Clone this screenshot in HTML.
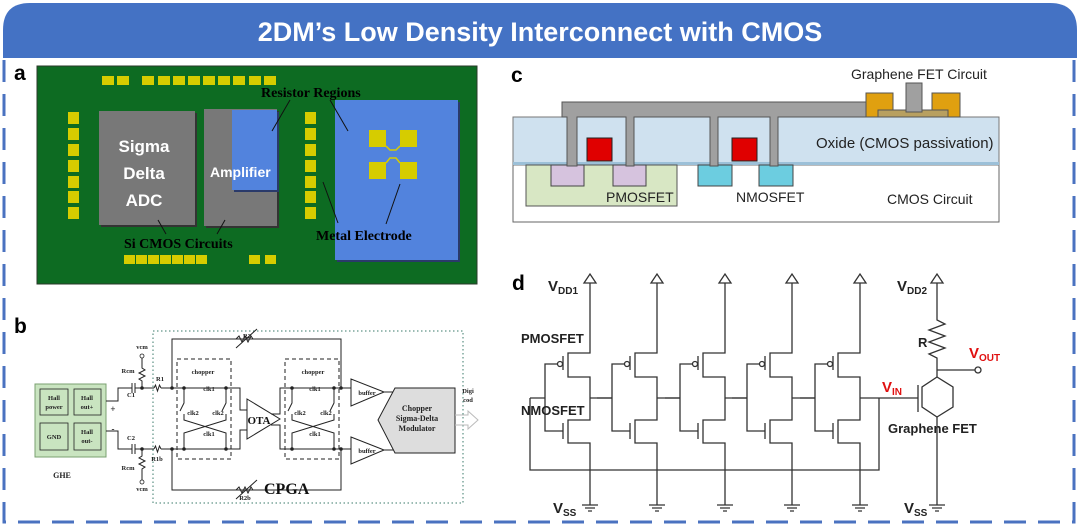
<!DOCTYPE html>
<html><head><meta charset="utf-8"><style>
html,body{margin:0;padding:0;background:#fff}
svg{display:block}
.sf{font-family:"Liberation Serif",serif;font-weight:bold}
.ss{font-family:"Liberation Sans",sans-serif}
</style></head><body>
<svg width="1080" height="531" viewBox="0 0 1080 531" xmlns="http://www.w3.org/2000/svg">
<path d="M4,60 V522 H1074 V60" fill="none" stroke="#4a72c0" stroke-width="3" stroke-dasharray="22,12"/>
<path d="M3,58 V30 Q3,3 30,3 H1050 Q1077,3 1077,30 V58 Z" fill="#4472c4"/>
<text x="540" y="41" text-anchor="middle" class="ss" font-weight="bold" font-size="27" fill="#fff">2DM’s Low Density Interconnect with CMOS</text>

<g class="ss" font-weight="bold" font-size="21" fill="#000">
<text x="14" y="80">a</text><text x="14" y="333">b</text><text x="511" y="82">c</text><text x="512" y="290">d</text>
</g>

<!-- PANEL A -->
<rect x="37" y="66" width="440" height="218" fill="#0d6b22" stroke="#2a3a2a"/>
<g fill="#d6cc00">
<rect x="102" y="76" width="12" height="9"/><rect x="117" y="76" width="12" height="9"/>
<rect x="142" y="76" width="12" height="9"/><rect x="158" y="76" width="12" height="9"/><rect x="173" y="76" width="12" height="9"/><rect x="188" y="76" width="12" height="9"/><rect x="203" y="76" width="12" height="9"/><rect x="218" y="76" width="12" height="9"/><rect x="233" y="76" width="12" height="9"/><rect x="249" y="76" width="12" height="9"/><rect x="264" y="76" width="12" height="9"/>
<rect x="68" y="112" width="11" height="12"/><rect x="68" y="128" width="11" height="12"/><rect x="68" y="144" width="11" height="12"/><rect x="68" y="160" width="11" height="12"/><rect x="68" y="176" width="11" height="12"/><rect x="68" y="191" width="11" height="12"/><rect x="68" y="207" width="11" height="12"/>
<rect x="305" y="112" width="11" height="12"/><rect x="305" y="128" width="11" height="12"/><rect x="305" y="144" width="11" height="12"/><rect x="305" y="160" width="11" height="12"/><rect x="305" y="176" width="11" height="12"/><rect x="305" y="191" width="11" height="12"/><rect x="305" y="207" width="11" height="12"/>
<rect x="124" y="255" width="11" height="9"/><rect x="136" y="255" width="11" height="9"/><rect x="148" y="255" width="11" height="9"/><rect x="160" y="255" width="11" height="9"/><rect x="172" y="255" width="11" height="9"/><rect x="184" y="255" width="11" height="9"/><rect x="196" y="255" width="11" height="9"/>
<rect x="249" y="255" width="11" height="9"/><rect x="265" y="255" width="11" height="9"/>
</g>
<rect x="101" y="113" width="96" height="114" fill="#333"/>
<rect x="99" y="111" width="96" height="114" fill="#787878"/>
<g class="ss" font-weight="bold" font-size="17" fill="#fff" text-anchor="middle">
<text x="144" y="152">Sigma</text><text x="144" y="179">Delta</text><text x="144" y="206">ADC</text></g>
<path d="M206,111 H279 V228 H206 Z" fill="#333"/>
<path d="M204,109 H277 V226 H204 Z" fill="#787878"/>
<rect x="234" y="112" width="45" height="80" fill="#2a3a6a"/>
<rect x="232" y="110" width="45" height="80" fill="#5283dd"/>
<text x="210" y="177" class="ss" font-weight="bold" font-size="14" fill="#fff">Amplifier</text>
<rect x="337" y="102" width="123" height="160" fill="#2a3a6a"/>
<rect x="335" y="100" width="123" height="160" fill="#5283dd"/>
<g fill="#d6cc00">
<rect x="369" y="130" width="17" height="17"/><rect x="400" y="130" width="17" height="17"/>
<rect x="369" y="162" width="17" height="17"/><rect x="400" y="162" width="17" height="17"/>
<path d="M386,146 L390,150 H396 L400,146 M386,163 L390,158 H396 L400,163" stroke="#d6cc00" stroke-width="1.5" fill="none"/>
</g>
<g stroke="#111" stroke-width="1">
<line x1="290" y1="100" x2="272" y2="131"/><line x1="330" y1="100" x2="348" y2="131"/>
<line x1="323" y1="182" x2="338" y2="223"/><line x1="400" y1="184" x2="386" y2="224"/>
<line x1="158" y1="220" x2="166" y2="234"/><line x1="225" y1="220" x2="217" y2="234"/>
</g>
<g class="sf" font-size="14" fill="#000">
<text x="261" y="97">Resistor Regions</text>
<text x="316" y="240">Metal Electrode</text>
<text x="124" y="248">Si CMOS Circuits</text>
</g>

<!-- PANEL C -->
<rect x="513" y="163" width="486" height="59" fill="#fff" stroke="#666"/>
<rect x="513" y="117" width="486" height="48" fill="#cfe1ef" stroke="#777"/>
<rect x="513" y="162" width="486" height="3" fill="#9cc0d8"/>
<rect x="526" y="165" width="151" height="41" fill="#d8e7c4" stroke="#555"/>
<rect x="551" y="165" width="33" height="21" fill="#d6c3de" stroke="#444"/>
<rect x="613" y="165" width="33" height="21" fill="#d6c3de" stroke="#444"/>
<rect x="698" y="165" width="34" height="21" fill="#6ccde0" stroke="#444"/>
<rect x="759" y="165" width="34" height="21" fill="#6ccde0" stroke="#444"/>
<rect x="587" y="138" width="25" height="23" fill="#e00000" stroke="#222"/>
<rect x="732" y="138" width="25" height="23" fill="#e00000" stroke="#222"/>
<path d="M562,117 V102 H868 V117 H778 V166 H770 V117 H718 V166 H710 V117 H634 V166 H626 V117 H577 V166 H567 V117 Z" fill="#a0a0a0" stroke="#555"/>
<rect x="866" y="93" width="27" height="24" fill="#e0a010" stroke="#555"/>
<rect x="932" y="93" width="28" height="24" fill="#e0a010" stroke="#555"/>
<rect x="878" y="110" width="70" height="7" fill="#b8a060" stroke="#555"/>
<rect x="906" y="83" width="16" height="29" fill="#a0a0a0" stroke="#555"/>
<g class="ss" font-size="14" fill="#222">
<text x="851" y="79">Graphene FET Circuit</text>
<text x="816" y="148" font-size="15">Oxide (CMOS passivation)</text>
<text x="606" y="202">PMOSFET</text>
<text x="736" y="202">NMOSFET</text>
<text x="887" y="204">CMOS Circuit</text>
</g>

<!-- PANEL B -->
<rect x="153" y="331" width="310" height="172" fill="none" stroke="#3a7a6a" stroke-dasharray="1.5,2.5"/>
<rect x="35" y="384" width="71" height="73" fill="#c9e4c0" stroke="#7aa070"/>
<g fill="#c9e4c0" stroke="#222" stroke-width="0.8">
<rect x="40" y="389" width="28" height="26"/><rect x="74" y="389" width="27" height="26"/>
<rect x="40" y="423" width="28" height="27"/><rect x="74" y="423" width="27" height="27"/></g>
<g stroke="#222" stroke-width="1" fill="none">
<path d="M106,401 H118 V388 H132 M135,388 H154 M161,388 H240 V410 H247"/>
<path d="M106,431 H118 V449 H132 M135,449 H154 M161,449 H240 V430 H247"/>
<path d="M132,383 V393 M135,383 V393 M132,444 V454 M135,444 V454"/>
<path d="M154,388 l1.5,-3 l2,6 l2,-6 l1.5,3 M154,449 l1.5,-3 l2,6 l2,-6 l1.5,3"/>
<path d="M142,388 V381 l-3,-2 l6,-3 l-6,-3 l6,-3 l-3,-2 V358 M142,449 V456 l-3,2 l6,3 l-6,3 l6,3 l-3,2 V480"/>
<path d="M172,388 V339 H341 V388 M172,449 V490 H341 V449"/>
<path d="M236,339 l3,-3 l3,6 l3,-6 l3,6 l3,-6 l2,3 M236,490 l3,-3 l3,6 l3,-6 l3,6 l3,-6 l2,3"/>
<path d="M236,348 L257,329 M236,499 L257,480"/>
<rect x="177" y="359" width="54" height="100" stroke-dasharray="4,3"/>
<rect x="285" y="359" width="54" height="100" stroke-dasharray="4,3"/>
<path d="M184,388 V403 L180,411 M184,414 V420 L226,433 V449 M226,388 V403 L222,411 M226,414 V420 L184,433 V449"/>
<path d="M292,388 V403 L288,411 M292,414 V420 L334,433 V449 M334,388 V403 L330,411 M334,414 V420 L292,433 V449"/>
<path d="M247,399 V439 L280,419 Z" fill="#fff"/>
<path d="M271,414 H280 V388 H351 M271,425 H280 V449 H351"/>
<path d="M351,379 V406 L384,392 Z M351,437 V464 L384,450 Z" fill="#fff"/>
<path d="M384,392 H398 V400 M384,450 H398 V440"/>
<path d="M378,420 L395,388 H455 V453 H395 Z" fill="#ddd"/>
<path d="M455,415 H468 V411 L478,420 L468,429 V425 H455" stroke="#bbb"/>
</g>
<g class="sf" font-size="6.5" fill="#222" text-anchor="middle">
<text x="54" y="400">Hall</text><text x="54" y="409">power</text>
<text x="87" y="400">Hall</text><text x="87" y="409">out+</text>
<text x="54" y="439">GND</text>
<text x="87" y="434">Hall</text><text x="87" y="443">out-</text>
<text x="62" y="478" font-size="8">GHE</text>
<text x="142" y="349">vcm</text><text x="142" y="491">vcm</text>
<text x="128" y="373">Rcm</text><text x="128" y="470">Rcm</text>
<text x="160" y="381">R1</text><text x="157" y="461">R1b</text>
<text x="131" y="397">C1</text><text x="131" y="440">C2</text>
<text x="247" y="338">R2</text><text x="245" y="500">R2b</text>
<text x="203" y="374">chopper</text><text x="313" y="374">chopper</text>
<text x="209" y="391">clk1</text><text x="315" y="391">clk1</text>
<text x="193" y="415">clk2</text><text x="218" y="415">clk2</text>
<text x="300" y="415">clk2</text><text x="326" y="415">clk2</text>
<text x="209" y="436">clk1</text><text x="315" y="436">clk1</text>
<text x="367" y="395">buffer</text><text x="367" y="453">buffer</text>
<text x="417" y="411" font-size="8">Chopper</text>
<text x="417" y="421" font-size="8">Sigma-Delta</text>
<text x="417" y="431" font-size="8">Modulator</text>
<text x="468" y="393">Digi</text><text x="468" y="402">cod</text>
<text x="113" y="412" font-size="9">+</text><text x="113" y="432" font-size="9">-</text>
</g>
<text x="264" y="494" class="sf" font-size="16" fill="#111">CPGA</text>
<text x="259" y="424" class="sf" font-size="11" fill="#111" text-anchor="middle">OTA</text>
<g fill="#fff" stroke="#222" stroke-width="0.8">
<circle cx="142" cy="356" r="2"/><circle cx="142" cy="482" r="2"/>
</g>
<g fill="#222">
<circle cx="142" cy="388" r="1.8"/><circle cx="142" cy="449" r="1.8"/><circle cx="172" cy="388" r="1.8"/><circle cx="172" cy="449" r="1.8"/>
<circle cx="184" cy="388" r="1.8"/><circle cx="226" cy="388" r="1.8"/><circle cx="184" cy="449" r="1.8"/><circle cx="226" cy="449" r="1.8"/>
<circle cx="292" cy="388" r="1.8"/><circle cx="334" cy="388" r="1.8"/><circle cx="292" cy="449" r="1.8"/><circle cx="334" cy="449" r="1.8"/>
<circle cx="341" cy="388" r="1.8"/><circle cx="341" cy="449" r="1.8"/>
</g>

<!-- PANEL D -->
<g stroke="#333" stroke-width="1.3" fill="none">
<g id="st">
<path d="M590,283 V353 H568 V377 H590 V420 H568 V443 H590 V505"/>
<path d="M563,356 V370 M563,423 V439"/>
<path d="M557,364 H545 V431 H563 M545,398 H530"/>
<circle cx="560" cy="364" r="2.5" fill="#fff"/>
<path d="M584,283 l6,-9 l6,9 Z"/>
<path d="M582,505 H598 M585,508 H595 M588,511 H592"/>
</g>
<use href="#st" x="67"/><use href="#st" x="135"/><use href="#st" x="202"/><use href="#st" x="270"/>
<path d="M590,398 H612 M657,398 H680 M725,398 H747 M792,398 H815 M860,398 H918"/>
<path d="M530,398 V470 H879 V398"/>
<path d="M918,385 V412 M922,398 L922,387 L937,377 L953,387 V407 L937,417 L922,407 Z"/>
<path d="M937,283 V320 l8,4 l-16,6 l16,6 l-16,6 l16,6 l-16,6 l8,4 V377 M937,370 H975 M937,417 V505"/>
<circle cx="978" cy="370" r="3" fill="#fff"/>
<path d="M931,283 l6,-9 l6,9 Z"/>
<path d="M929,505 H945 M932,508 H942 M935,511 H939"/>
</g>
<g class="ss" font-weight="bold" fill="#222">
<text x="548" y="291" font-size="15">V<tspan font-size="10" dy="3">DD1</tspan></text>
<text x="897" y="291" font-size="15">V<tspan font-size="10" dy="3">DD2</tspan></text>
<text x="553" y="513" font-size="15">V<tspan font-size="10" dy="3">SS</tspan></text>
<text x="904" y="513" font-size="15">V<tspan font-size="10" dy="3">SS</tspan></text>
<text x="521" y="343" font-size="13">PMOSFET</text>
<text x="521" y="415" font-size="13">NMOSFET</text>
<text x="918" y="347" font-size="13">R</text>
<text x="888" y="433" font-size="13">Graphene FET</text>
<text x="969" y="358" font-size="15" fill="#e01010">V<tspan font-size="10" dy="3">OUT</tspan></text>
<text x="882" y="392" font-size="15" fill="#e01010">V<tspan font-size="10" dy="3">IN</tspan></text>
</g>
</svg>
</body></html>
